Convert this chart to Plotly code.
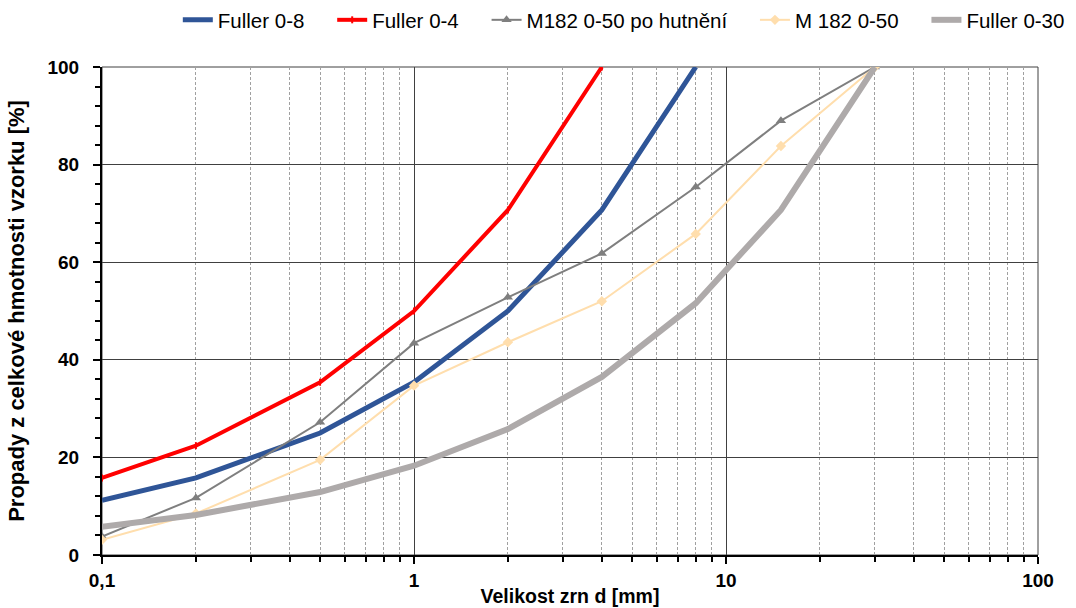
import plotly.graph_objects as go

# Grain sizes [mm] and passing percentages [%]
d_fuller8 = [0.1, 0.2, 0.5, 1, 2, 4, 8]
p_fuller8 = [11.2, 15.8, 25.0, 35.4, 50.0, 70.7, 100.0]

d_fuller4 = [0.1, 0.2, 0.5, 1, 2, 4]
p_fuller4 = [15.8, 22.4, 35.4, 50.0, 70.7, 100.0]

d_m182 = [0.1, 0.2, 0.5, 1, 2, 4, 8, 15, 30]
p_m182_hut = [3.8, 11.7, 27.2, 43.4, 52.8, 61.8, 75.4, 89.0, 100.0]
p_m182 = [3.1, 8.5, 19.5, 34.7, 43.6, 52.0, 65.8, 83.8, 100.0]

d_fuller30 = [0.1, 0.2, 0.5, 1, 2, 4, 8, 15, 30]
p_fuller30 = [5.8, 8.2, 12.9, 18.3, 25.8, 36.5, 51.6, 70.7, 100.0]

series_names = ["Fuller 0-8", "Fuller 0-4", "M182 0-50 po hutnění", "M 182 0-50", "Fuller 0-30"]

x_major = [0.1, 1, 10, 100]
x_major_text = ["0,1", "1", "10", "100"]
y_major = [0, 20, 40, 60, 80, 100]

font = "Liberation Sans, Arial, sans-serif"
pad = "\u00a0" * 4

fig = go.Figure()
fig.add_trace(go.Scatter(x=d_fuller8, y=p_fuller8, name=series_names[0] + pad, mode="lines",
                         line=dict(color="#2F5597", width=5)))
fig.add_trace(go.Scatter(x=d_fuller4, y=p_fuller4, name=series_names[1] + pad, mode="lines+markers",
                         line=dict(color="#FF0000", width=4),
                         marker=dict(symbol="line-ns", size=5, color="#FF0000",
                                     line=dict(color="#FF0000", width=2))))
fig.add_trace(go.Scatter(x=d_m182, y=p_m182_hut, name=series_names[2] + pad, mode="lines+markers",
                         line=dict(color="#7F7F7F", width=2),
                         marker=dict(symbol="triangle-up", size=9, color="#7F7F7F")))
fig.add_trace(go.Scatter(x=d_m182, y=p_m182, name=series_names[3] + pad, mode="lines+markers",
                         line=dict(color="#FFDEAD", width=2),
                         marker=dict(symbol="diamond", size=8, color="#FFDEAD")))
fig.add_trace(go.Scatter(x=d_fuller30, y=p_fuller30, name=series_names[4], mode="lines",
                         line=dict(color="#AEAAAA", width=6)))

x_minor = [m * 10 ** k for k in (-1, 0, 1) for m in range(2, 10)]

fig.update_xaxes(
    type="log", range=[-1, 2],
    tickmode="array", tickvals=x_major, ticktext=x_major_text,
    ticks="outside", ticklen=7, tickwidth=2, tickcolor="black",
    showline=True, linecolor="black", linewidth=2,
    showgrid=True, gridcolor="#404040", gridwidth=1,
    tickfont=dict(family=font, size=19, color="black", weight="bold"),
    title=dict(text="Velikost zrn d [mm]", standoff=0,
               font=dict(family=font, size=19.5, color="black", weight="bold")),
    minor=dict(tickmode="array", tickvals=x_minor, ticks="outside", ticklen=5,
               tickwidth=2, tickcolor="black",
               showgrid=True, gridcolor="#A0A0A0", griddash="3px,2px", gridwidth=1),
    zeroline=False, automargin=False,
)
fig.update_yaxes(
    range=[0, 100],
    tickmode="array", tickvals=y_major,
    ticks="outside", ticklen=7, tickwidth=2, tickcolor="black",
    ticklabelstandoff=10,
    showline=True, linecolor="black", linewidth=2,
    showgrid=True, gridcolor="#404040", gridwidth=1,
    tickfont=dict(family=font, size=19, color="black", weight="bold"),
    title=dict(text="Propady z celkové hmotnosti vzorku [%]", standoff=17,
               font=dict(family=font, size=22, color="black", weight="bold")),
    minor=dict(tickmode="linear", tick0=0, dtick=4, ticks="outside", ticklen=5,
               tickwidth=2, tickcolor="black", showgrid=False),
    zeroline=False, automargin=False,
)

fig.add_shape(type="rect", xref="paper", yref="paper", x0=0, x1=1, y0=0, y1=1,
              line=dict(color="#404040", width=1), layer="below")

fig.update_layout(
    width=1076, height=608,
    margin=dict(l=102, r=38, t=67, b=53, autoexpand=False),
    paper_bgcolor="white", plot_bgcolor="white",
    font=dict(family=font, color="black"),
    showlegend=True,
    legend=dict(orientation="h", x=0.081, xanchor="left",
                yref="container", y=1 - 20 / 608, yanchor="middle",
                font=dict(family=font, size=20.5, color="black"),
                tracegroupgap=0, bgcolor="rgba(0,0,0,0)"),
)

fig.write_html("out.html")
